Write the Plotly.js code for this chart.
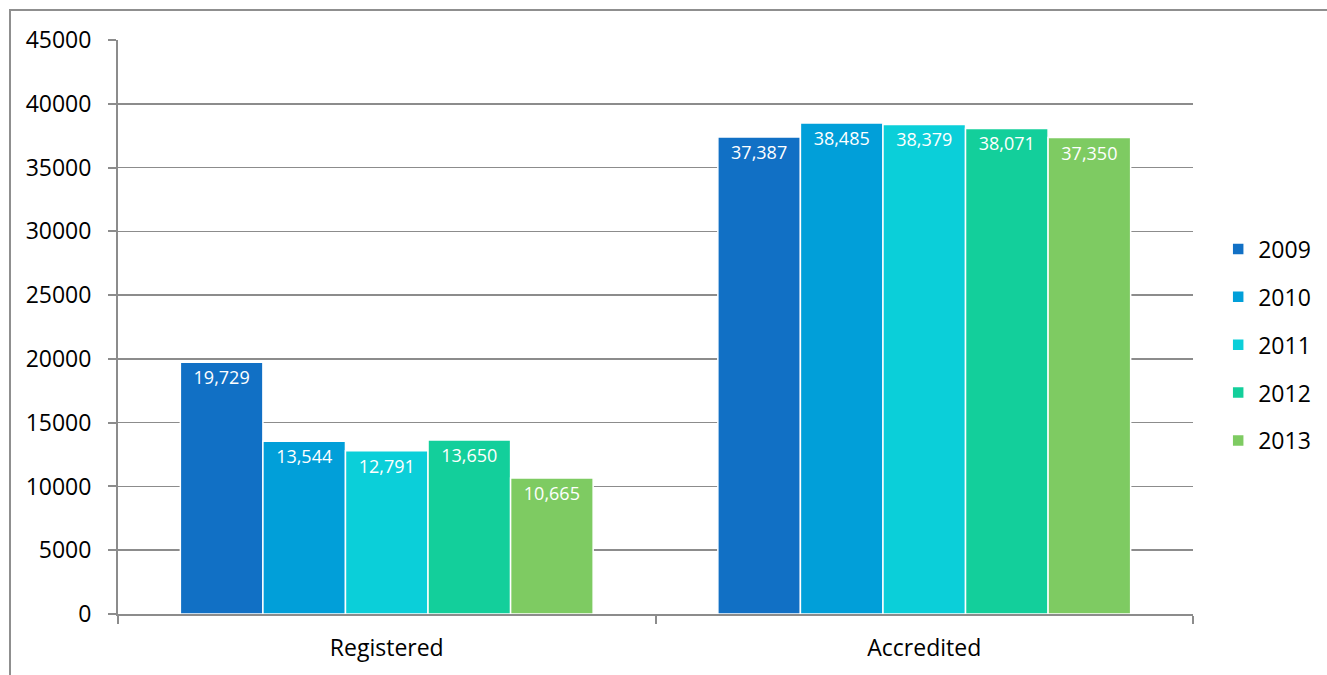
<!DOCTYPE html>
<html>
<head>
<meta charset="utf-8">
<script src="https://cdn.plot.ly/plotly-3.0.1.min.js"></script>
<style>
html,body{margin:0;padding:0;background:#fff;}
#wrap{position:relative;width:1327px;height:675px;overflow:hidden;}
#chart{position:absolute;left:0;top:0;width:1327px;height:675px;}
#frame{position:absolute;left:9px;top:9px;width:1330px;height:700px;border-left:2px solid #8f8f8f;border-top:2px solid #8f8f8f;pointer-events:none;}
</style>
</head>
<body>
<div id="wrap"><div id="chart"></div><div id="frame"></div></div>
<script>
const categories = ["Registered", "Accredited"];
const years = ["2009", "2010", "2011", "2012", "2013"];
const v2009 = [19729, 37387];
const v2010 = [13544, 38485];
const v2011 = [12791, 38379];
const v2012 = [13650, 38071];
const v2013 = [10665, 37350];
const colors = ["#1170C5", "#019FD9", "#0BCFD9", "#13CF9B", "#7ECB62"];
const series = [v2009, v2010, v2011, v2012, v2013];

const font = "Open Sans, Lato, DejaVu Sans, sans-serif";
const traces = series.map((vals, i) => ({
  type: "bar",
  name: years[i],
  legendgroup: years[i],
  x: categories,
  y: vals,
  marker: {color: colors[i], line: {color: "#ffffff", width: 1.5}},
  texttemplate: "%{y:,}",
  textposition: "inside",
  insidetextanchor: "end",
  textangle: 0,
  constraintext: "none",
  textfont: {color: "#ffffff", size: 18, family: font},
  hoverinfo: "x+y+name"
}));

const layout = {
  width: 1327, height: 675,
  margin: {l: 118, r: 134, t: 40, b: 61, autoexpand: false},
  paper_bgcolor: "#ffffff", plot_bgcolor: "#ffffff",
  barmode: "group",
  bargap: 0.232,
  bargroupgap: 0.0,
  font: {family: font, color: "#000000", size: 22},
  xaxis: {
    type: "category",
    showline: true, linecolor: "#8c8c8c", linewidth: 2,
    ticks: "outside", tickson: "boundaries", ticklen: 8, tickcolor: "#8c8c8c", tickwidth: 2,
    tickfont: {size: 23, family: font, color: "#000"},
    ticklabelstandoff: 12,
    showgrid: false, zeroline: false
  },
  yaxis: {
    range: [0, 45000], dtick: 5000, tick0: 0,
    tickformat: "d",
    exponentformat: "none", separatethousands: false,
    showline: true, linecolor: "#8c8c8c", linewidth: 2,
    ticks: "outside", ticklen: 8, tickcolor: "#8c8c8c", tickwidth: 2,
    showgrid: true, gridcolor: "#8c8c8c", gridwidth: 1.5,
    zeroline: false,
    tickfont: {size: 23, family: font, color: "#000"},
    ticklabelstandoff: 12
  },
  legend: {
    xref: "container", yref: "container",
    x: 0.918, xanchor: "left", y: 0.489, yanchor: "middle",
    font: {size: 23, family: font, color: "#000"},
    tracegroupgap: 15,
    itemwidth: 30,
    bgcolor: "rgba(0,0,0,0)"
  },
  showlegend: true
};

Plotly.newPlot("chart", traces, layout, {displayModeBar: false, staticPlot: true});
</script>
</body>
</html>
